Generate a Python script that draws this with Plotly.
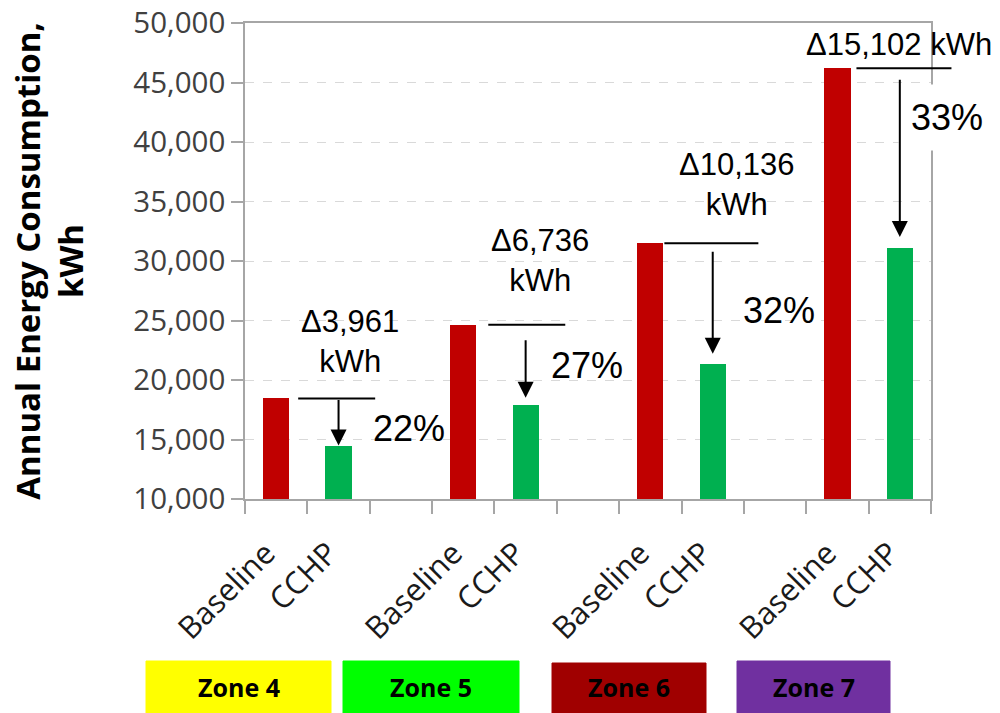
import plotly.graph_objects as go

# ---- data -------------------------------------------------------------
zones = ["Zone 4", "Zone 5", "Zone 6", "Zone 7"]
bar_labels = ["Baseline", "CCHP"]
baseline_kwh = [18450, 24650, 31500, 46200]
savings_kwh = [3961, 6736, 10136, 15102]
savings_pct = [22, 27, 32, 33]
cchp_kwh = [b - d for b, d in zip(baseline_kwh, savings_kwh)]

# ---- layout helpers -----------------------------------------------------
W, H = 1000, 713
M = dict(l=245, r=69, t=23, b=214)
PW, PH = W - M["l"] - M["r"], H - M["t"] - M["b"]
SLOTS_PER_ZONE = 3          # Baseline, CCHP, spacer
n_slots = SLOTS_PER_ZONE * len(zones) - 1
x_range = [-0.5, n_slots - 0.5]
y_range = [10000, 50000]

base_pos = [SLOTS_PER_ZONE * i for i in range(len(zones))]
cchp_pos = [p + 1 for p in base_pos]


def xfrac(pos):
    return (pos - x_range[0]) / (x_range[1] - x_range[0])


def px_x(px):
    return (px - M["l"]) / PW


def px_y(py):
    return (H - M["b"] - py) / PH


# annotation styling per zone (pixel offsets)
delta_sep = ["<br>", "<br>", "<br>", " "]
delta_dx = [74, 77, 87, 62]
delta_dy = [57, 64, 59, 24]
pct_dx = [70, 61, 66, 47]
pct_dy = [-30, -41, -67, -49]
line_x0 = [22, 25, 14, 19]
line_x1 = [99, 102, 108, 114]
arrow_tail_gap = [0, 14, 7, 10]
arrow_head_gap = [0, 7, 10, 11]
zone_box_px = [(146, 331, 661), (343, 519, 661), (552, 706, 663), (737, 890, 661)]
zone_colors = ["#ffff00", "#00ff00", "#a00000", "#7030a0"]

RED = "#c00000"
GREEN = "#00b050"
AXIS_GREY = "#a6a6a6"
ANN_FONT = "Liberation Sans, Arial, sans-serif"
LBL_FONT = "Open Sans, sans-serif"

fig = go.Figure()
fig.add_trace(go.Bar(x=base_pos, y=baseline_kwh, width=0.42, marker_color=RED,
                     marker_line_width=0, name="Baseline", showlegend=False))
fig.add_trace(go.Bar(x=cchp_pos, y=cchp_kwh, width=0.42, marker_color=GREEN,
                     marker_line_width=0, name="CCHP", showlegend=False))

tick_vals, tick_text = [], []
for bp, cp in zip(base_pos, cchp_pos):
    tick_vals += [bp, cp]
    tick_text += bar_labels

shapes = []
annotations = []

for i in range(len(zones)):
    # reference line at the baseline level
    shapes.append(dict(type="line", xref="paper", yref="y", xsizemode="pixel",
                       xanchor=xfrac(base_pos[i]), x0=line_x0[i], x1=line_x1[i],
                       y0=baseline_kwh[i], y1=baseline_kwh[i],
                       line=dict(color="black", width=2)))
    # savings label
    annotations.append(dict(x=base_pos[i], y=baseline_kwh[i], xref="x", yref="y",
                            xshift=delta_dx[i], yshift=delta_dy[i],
                            text=f"\u0394{savings_kwh[i]:,}{delta_sep[i]}kWh",
                            showarrow=False, xanchor="center", yanchor="middle",
                            font=dict(family=ANN_FONT, size=31, color="black")))
    # percentage label
    pct_ann = dict(x=cchp_pos[i], y=baseline_kwh[i], xref="x", yref="y",
                   xshift=pct_dx[i], yshift=pct_dy[i], text=f"{savings_pct[i]}%",
                   showarrow=False, xanchor="center", yanchor="middle",
                   font=dict(family=ANN_FONT, size=36, color="black"))
    if i == len(zones) - 1:
        pct_ann.update(bgcolor="white", borderpad=12)
    annotations.append(pct_ann)

for i in range(len(zones)):
    # downward arrow from baseline level to the CCHP bar
    annotations.append(dict(x=cchp_pos[i], y=cchp_kwh[i], xref="x", yref="y",
                            ax=cchp_pos[i], ay=baseline_kwh[i], axref="x", ayref="y",
                            text="", showarrow=True, arrowhead=2, arrowsize=1.6,
                            arrowwidth=2, arrowcolor="black",
                            standoff=arrow_head_gap[i], startstandoff=arrow_tail_gap[i]))

# zone legend boxes below the axis
for name, color, (x0, x1, y0) in zip(zones, zone_colors, zone_box_px):
    shapes.append(dict(type="rect", xref="paper", yref="paper",
                       x0=px_x(x0), x1=px_x(x1), y0=px_y(y0), y1=px_y(H + 5),
                       fillcolor=color, line=dict(color=color, width=1)))
    annotations.append(dict(x=(px_x(x0) + px_x(x1)) / 2, y=px_y(687),
                            xref="paper", yref="paper", text=f"<b>{name}</b>",
                            showarrow=False, xanchor="center", yanchor="middle",
                            font=dict(family=LBL_FONT, size=25, color="black")))

fig.update_layout(
    width=W, height=H, margin=M,
    plot_bgcolor="white", paper_bgcolor="white",
    bargap=0, shapes=shapes, annotations=annotations,
    xaxis=dict(
        range=x_range, showgrid=False, zeroline=False, automargin=False,
        showline=True, linecolor=AXIS_GREY, linewidth=1.5, mirror=True,
        tickmode="array", tickvals=tick_vals, ticktext=tick_text, ticks="",
        tickangle=-45, ticklabelstandoff=22, ticklabelshift=-10,
        tickfont=dict(family=LBL_FONT, size=31, color="#1a1a1a"),
        minor=dict(tickmode="linear", tick0=-0.5, dtick=1, ticks="outside",
                   ticklen=13, tickwidth=1.5, tickcolor=AXIS_GREY, showgrid=False),
    ),
    yaxis=dict(
        range=y_range, dtick=5000, tickformat=",", automargin=False,
        showgrid=True, gridcolor="#d9d9d9", griddash="dash", gridwidth=1,
        zeroline=False, showline=True, linecolor=AXIS_GREY, linewidth=1.5,
        mirror=True, ticks="outside", ticklen=12, tickwidth=1.5, tickcolor=AXIS_GREY,
        tickfont=dict(family=LBL_FONT, size=29.5, color="#404040"),
        title=dict(text="<b>Annual Energy Consumption,<br>kWh</b>", standoff=40,
                   font=dict(family=LBL_FONT, size=33, color="black")),
    ),
)

fig.write_html("out.html")
